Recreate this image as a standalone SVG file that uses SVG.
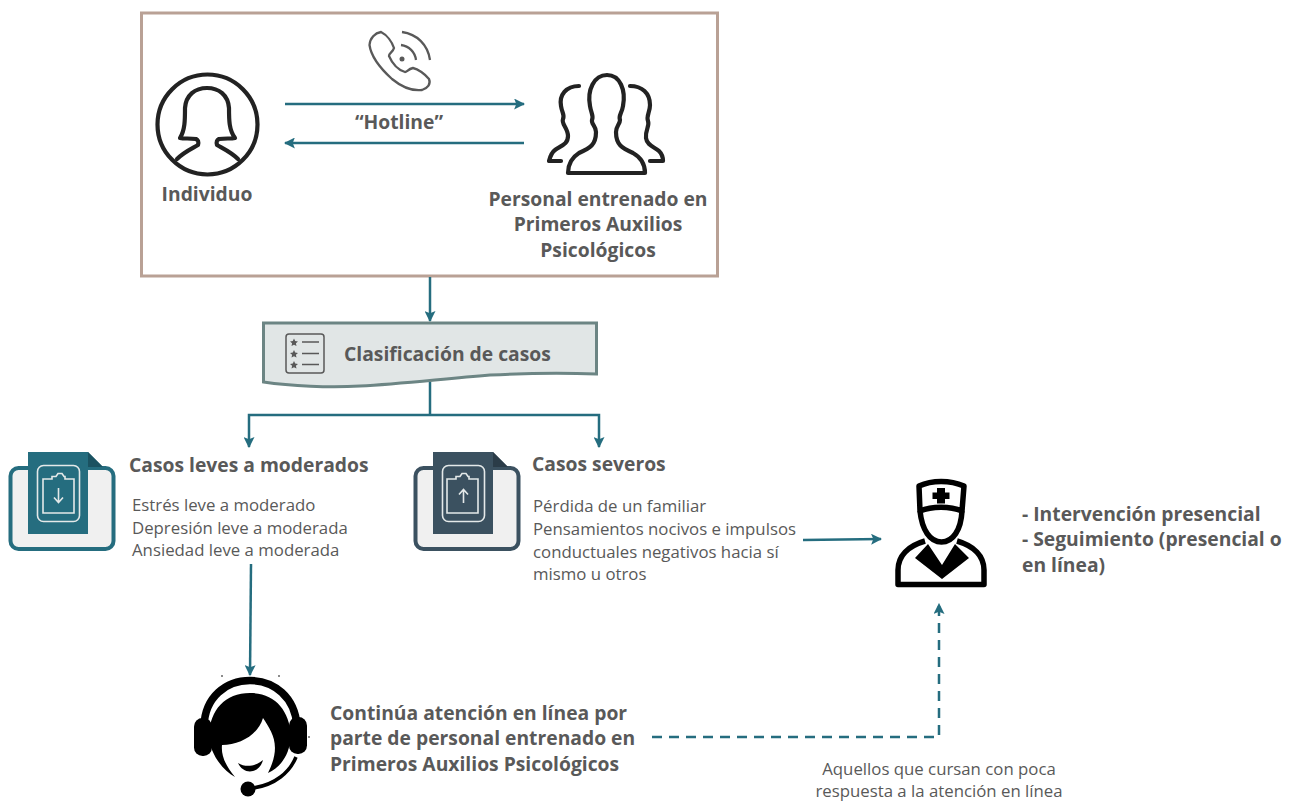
<svg xmlns="http://www.w3.org/2000/svg" width="1296" height="801" viewBox="0 0 1296 801">
<style>
text{font-family:"Open Sans","Noto Sans","Liberation Sans",sans-serif;fill:#595959}
.b{font-weight:700;font-size:19.300px}
.r{font-size:16.800px}
.c{text-anchor:middle}
.l{fill:none;stroke:#256d7f;stroke-width:2.500}
.ic{fill:none;stroke:#222;stroke-width:4.200;stroke-linejoin:round;stroke-linecap:round}
.lt{fill:none;stroke:#e4e9e9;stroke-width:1.600}
.k{fill:none;stroke:#000;stroke-width:5.500;stroke-linejoin:round}
</style>
<defs>
<marker id="a" viewBox="0 0 10 10" refX="9" refY="5" markerWidth="4.400" markerHeight="4.400" orient="auto-start-reverse" markerUnits="strokeWidth"><path d="M0 0L10 5L0 10L2 5Z" fill="#256d7f"/></marker>
</defs>
<g id="contenedor"><rect x="141.500" y="13" width="576" height="263" fill="#fff" stroke="#b9a195" stroke-width="3"/></g>
<g id="conectores">
<path class="l" d="M285 104H524" marker-end="url(#a)"/>
<path class="l" d="M524 143H285" marker-end="url(#a)"/>
<path class="l" d="M430 277V321" marker-end="url(#a)"/>
<path class="l" d="M430 382V415"/>
<path class="l" d="M430 415H249V447" marker-end="url(#a)"/>
<path class="l" d="M430 415H599V447" marker-end="url(#a)"/>
<path class="l" d="M803 540L881 539" marker-end="url(#a)"/>
<path class="l" d="M251 564L250 675" marker-end="url(#a)"/>
<path class="l" d="M652 737H939V604" stroke-dasharray="10 7" marker-end="url(#a)"/>
</g>
<g id="telefono"><path d="M381 32C375 33 370 38 369.500 45C371 56 381 69 392 79C403 88 414 91 422 90C428 88 431 84 429 79C425 74 418 69 413 68C408 69 407 72 405 72C398 70 392 63 389 56C389 53 393 52 394 48C392 42 387 35 381 32Z" fill="none" stroke="#595959" stroke-width="2.300"/><path d="M402 32C417 34 428 45 430 60M401 45C409 46 415 52 416 60" fill="none" stroke="#595959" stroke-width="2.300"/><circle cx="402" cy="59" r="2.500" fill="#595959"/></g>
<g id="individuo"><circle cx="207.500" cy="124.500" r="50" class="ic"/><path class="ic" d="M177 159C184 152 191 149 198 145C199 141 198 140 196 139C190 138 184 139 180 138C185 130 185 120 185 108C186 95 195 88 207 88C219 88 228 95 229 108C229 120 229 130 235 138C231 139 225 138 219 139C217 140 216 141 217 145C224 149 231 152 238 159"/><text class="b c" x="207" y="201">Individuo</text></g>
<g id="personal"><path class="ic" d="M570 173H645C645 165 642 158 633 153C622 148 616 145 616 132C616 126 620 124 620 120C618 116 622 113 623 106C626 90 620 75 607 75C594 75 587 90 590 106C591 113 594 116 592 120C591 124 596 126 596 132C596 145 590 148 579 153C571 158 568 165 568 173Z"/><path class="ic" d="M579 86C566 86 559 95 561 106C562 113 565 115 563 119C561 124 568 128 568 136C568 145 560 146 555 150C551 153 550 157 549 161H561M630 86C642 86 650 93 650 105C650 112 646 116 648 121C650 126 645 130 646 138C647 146 655 147 659 151C662 154 663 157 663 161H650"/><text class="b c" x="598" y="206">Personal entrenado en</text><text class="b c" x="598" y="231">Primeros Auxilios</text><text class="b c" x="598" y="257">Psicológicos</text></g>
<text class="b c" x="399" y="129">“Hotline”</text>
<g id="clasificacion"><path d="M263.500 323H596.500V374C570 373 530 373 490 375C440 379 400 384 360 386C330 388 290 386 263.500 382Z" fill="#e1e6e6" stroke="#6c8584" stroke-width="3"/><g fill="none" stroke="#595959" stroke-width="1.500"><rect x="286" y="334" width="38" height="39" rx="3"/><path d="M302 342H319M302 353.500H319M302 364.500H319"/></g><g fill="#595959"><path d="M294 338.500l1.200 2.600 2.800.3-2.100 1.900.6 2.800-2.500-1.400-2.500 1.400.6-2.800-2.100-1.900 2.800-.3Z"/><path d="M294 350l1.200 2.600 2.800.3-2.100 1.900.6 2.800-2.500-1.400-2.500 1.400.6-2.800-2.100-1.900 2.800-.3Z"/><path d="M294 361l1.200 2.600 2.800.3-2.100 1.900.6 2.800-2.500-1.400-2.500 1.400.6-2.800-2.100-1.900 2.800-.3Z"/></g><text class="b" x="344" y="361">Clasificación de casos</text></g>
<g id="leves"><rect x="10.500" y="468" width="103" height="81" rx="8" fill="#f0f0f0" stroke="#256d7f" stroke-width="4"/><path d="M28 452H88L103 467H88V534H28Z" fill="#256d7f"/><path d="M88 452L103 467H88Z" fill="#1b5261"/><rect x="37.500" y="465.500" width="42" height="56" rx="6" class="lt"/><path class="lt" d="M43 479H52V476.500H56L58 473.500H62L64 476.500H65V479H74V513H43Z"/><path class="lt" d="M58.500 488V502M54 497.500L58.500 502.500L63 497.500"/><text class="b" x="129" y="472">Casos leves a moderados</text><text class="r" x="132" y="511">Estrés leve a moderado</text><text class="r" x="132" y="534">Depresión leve a moderada</text><text class="r" x="132" y="556">Ansiedad leve a moderada</text></g>
<g id="severos"><rect x="415.500" y="468" width="103" height="81" rx="8" fill="#f0f0f0" stroke="#3b5160" stroke-width="4"/><path d="M433 452H493L508 467H493V534H433Z" fill="#3b5160"/><path d="M493 452L508 467H493Z" fill="#2b3c48"/><rect x="442.500" y="465.500" width="42" height="56" rx="6" class="lt"/><path class="lt" d="M447 479H456V476.500H460L462 473.500H466L468 476.500H469V479H478V513H447Z"/><path class="lt" d="M463.500 503V490M459 494.500L463.500 489.500L468 494.500"/><text class="b" x="532" y="471">Casos severos</text><text class="r" x="533" y="512">Pérdida de un familiar</text><text class="r" x="533" y="535">Pensamientos nocivos e impulsos</text><text class="r" x="533" y="558">conductuales negativos hacia sí</text><text class="r" x="533" y="580">mismo u otros</text></g>
<g id="medico"><path class="k" d="M919 486C932 480 950 480 964 486L962 511C950 506 932 506 920 511Z"/><path class="k" d="M920 511C922 530 930 542 941.500 542C953 542 961 530 962 511"/><path d="M937 488h8v4.500h4.500v6.500h-4.500v4.500h-8v-4.500h-4.500v-6.500h4.500Z" fill="#000"/><path class="k" d="M925 541C908 546 898 556 898 570V584.500H984V570C984 556 974 546 957 541"/><path d="M928 544L915 558L942 579L969 558L955 544L942 565Z" fill="#000"/><text class="b" x="1022" y="521">- Intervención presencial</text><text class="b" x="1022" y="546">- Seguimiento (presencial o</text><text class="b" x="1022" y="572">en línea)</text></g>
<g id="operadora"><path d="M204 726C205 697 226 680.500 250 680.500C274 680.500 295 697 297 726" fill="none" stroke="#000" stroke-width="7.500"/><rect x="194" y="718" width="18" height="38" rx="8.500" fill="#000"/><rect x="289" y="717" width="18" height="37" rx="8.500" fill="#000"/><path d="M250 693C225 693 210 710 209 735C209 752 222 770 235 777C225 765 221 755 222 745C240 745 258 735 263 718C272 732 282 745 268 773C280 768 290 755 291 735C289 710 275 693 250 693Z" fill="#000"/><path d="M238 763C246 768 256 766 263 760C260 773 244 776 238 763Z" fill="#000"/><path d="M296 757C290 772 275 785 253 788" fill="none" stroke="#000" stroke-width="3.500"/><circle cx="248" cy="789" r="7.500" fill="#000"/><g fill="#666"><circle cx="222" cy="676" r="1"/><circle cx="279" cy="676" r="1"/><circle cx="309" cy="737" r="1"/></g><text class="b" x="330" y="720">Continúa atención en línea por</text><text class="b" x="330" y="745">parte de personal entrenado en</text><text class="b" x="330" y="771">Primeros Auxilios Psicológicos</text></g>
<text class="r c" x="939" y="775">Aquellos que cursan con poca</text>
<text class="r c" x="939" y="797">respuesta a la atención en línea</text>
</svg>
